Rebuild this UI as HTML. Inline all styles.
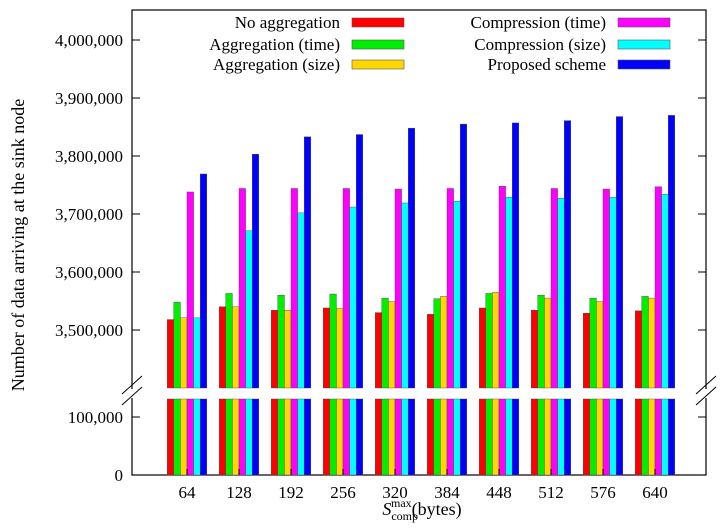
<!DOCTYPE html>
<html><head><meta charset="utf-8">
<style>
body{margin:0;background:#fff;}
svg{display:block;font-family:"Liberation Serif",serif;}
</style></head>
<body>
<svg id="chart" width="720" height="531" viewBox="0 0 720 531"></svg>
<script>
const categories=["64","128","192","256","320","384","448","512","576","640"];
const seriesNames=["No aggregation","Aggregation (time)","Aggregation (size)","Compression (time)","Compression (size)","Proposed scheme"];
const seriesColors=["#ff0000","#00ee00","#ffd700","#ff00ff","#00ffff","#0000ff"];
const noAgg=[3518000,3540000,3534000,3538000,3530000,3527000,3538000,3534000,3529000,3533000];
const aggTime=[3548000,3563000,3560000,3562000,3555000,3554000,3563000,3560000,3555000,3558000];
const aggSize=[3521000,3540000,3534000,3537000,3549000,3558000,3565000,3555000,3549000,3555000];
const compTime=[3738000,3744000,3744000,3744000,3743000,3744000,3748000,3744000,3743000,3747000];
const compSize=[3521000,3671000,3702000,3712000,3719000,3722000,3729000,3727000,3729000,3734000];
const proposed=[3769000,3803000,3833000,3837000,3848000,3855000,3857000,3861000,3868000,3870000];
const upperTicks=[3500000,3600000,3700000,3800000,3900000,4000000];
const lowerTicks=[0,100000];
const series=[noAgg,aggTime,aggSize,compTime,compSize,proposed];

const NS="http://www.w3.org/2000/svg";
const svg=document.getElementById('chart');
function mk(tag,attrs,parent){const e=document.createElementNS(NS,tag);for(const k in attrs)e.setAttribute(k,attrs[k]);(parent||svg).appendChild(e);return e;}
const L=132,R=706,T=10,B=475;
const yUp=v=>330-(v-3500000)/100000*58;
const yLo=v=>475-v/100000*58;
const upBottom=388, loTop=399;
const xCenter=i=>187+i*52;
const barW=6.6;

const frame=mk('rect',{x:L,y:T,width:R-L,height:B-T,fill:'none',stroke:'#000','stroke-width':1.2});


series.forEach((vals,s)=>{
  vals.forEach((v,i)=>{
    const x=xCenter(i)-3*barW+s*barW;
    const top=yUp(v);
    const b1=mk('rect',{x:x,y:top,width:barW,height:upBottom-top,fill:seriesColors[s],stroke:'#444','stroke-width':0.4});
    
    
    const b2=mk('rect',{x:x,y:loTop,width:barW,height:B-loTop,fill:seriesColors[s],stroke:'#444','stroke-width':0.4});
    
    
  });
});

upperTicks.forEach(v=>{
  const y=yUp(v);
  mk('line',{x1:L,y1:y,x2:L+8,y2:y,stroke:'#000'});
  mk('line',{x1:R,y1:y,x2:R-8,y2:y,stroke:'#000'});
  const t=mk('text',{x:L-9,y:y+6,'text-anchor':'end','font-size':17});
  t.textContent=v.toLocaleString('en-US');
  
});
lowerTicks.forEach(v=>{
  const y=yLo(v);
  mk('line',{x1:L,y1:y,x2:L+8,y2:y,stroke:'#000'});
  mk('line',{x1:R,y1:y,x2:R-8,y2:y,stroke:'#000'});
  const t=mk('text',{x:L-9,y:y+6,'text-anchor':'end','font-size':17});
  t.textContent=v.toLocaleString('en-US');
  
});
categories.forEach((c,i)=>{
  const x=xCenter(i);
  mk('line',{x1:x,y1:B,x2:x,y2:B-6,stroke:'#000'});
  const t=mk('text',{x:x,y:498,'text-anchor':'middle','font-size':17});
  t.textContent=c;
  
});
[L,R].forEach(x=>{
  mk('rect',{x:x-3,y:389,width:6,height:9,fill:'#fff'});
  mk('line',{x1:x-10,y1:394,x2:x+10,y2:376,stroke:'#000','stroke-width':1});
  mk('line',{x1:x-10,y1:405,x2:x+10,y2:387,stroke:'#000','stroke-width':1});
});

const legRows=[22,44,64];
seriesNames.forEach((n,s)=>{
  const col=s<3?0:1,row=s%3;
  const tx=col?606:340, sx=col?618:352;
  const y=legRows[row];
  const g=mk('g',{});
  
  const t=mk('text',{x:tx,y:y+6,'text-anchor':'end','font-size':17},g);t.textContent=n;
  mk('rect',{x:sx,y:y-4,width:52,height:9,fill:seriesColors[s],stroke:'#555','stroke-width':0.6},g);
});

const yt=mk('text',{x:0,y:0,'text-anchor':'middle','font-size':18,transform:'translate(24,245) rotate(-90)'});
yt.textContent='Number of data arriving at the sink node';

const xt=mk('text',{x:422,y:515,'text-anchor':'middle','font-size':18});

xt.innerHTML='<tspan font-style="italic">S</tspan><tspan font-size="12" dy="5">comp</tspan><tspan font-size="12" dx="-27" dy="-13">max</tspan><tspan dy="8">(bytes)</tspan>';
</script>
</body></html>
